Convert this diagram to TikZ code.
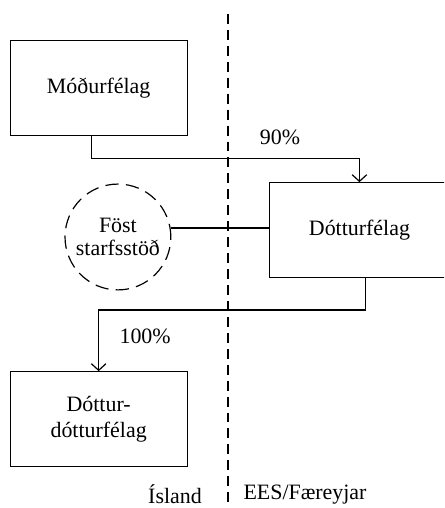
\documentclass[tikz,border=0pt]{standalone}
\usepackage{fontspec}
\setmainfont{Liberation Serif}
\usetikzlibrary{arrows.meta,calc}
\tikzset{
	firma/.style={draw, black, line width=0.9pt, minimum width=4.68cm, minimum height=2.51cm, align=center, font=\fontsize{16.5}{19}\selectfont},
	stod/.style={draw, black, circle, line width=0.9pt, dash pattern=on 10pt off 5.5pt, minimum size=2.8cm, align=center, inner sep=0pt, font=\fontsize{16.5}{17.5}\selectfont},
	tengi/.style={black, line width=0.9pt},
	pil/.style={tengi, -{Straight Barb[length=5pt,width=11pt]}},
	merki/.style={font=\fontsize{16.5}{19}\selectfont}
}
\begin{document}
\begin{tikzpicture}
		\clip (0,0) rectangle (11.75,13.44);
		% landamaeri
		\draw [black, line width=0.9pt, dash pattern=on 7.5pt off 4.5pt] (6.03,13.07)--(6.03,0);
		\node [merki] (island) at (4.63,0.36) {Ísland};
		\node [merki] (ees) at (8.07,0.36) {EES/Færeyjar};
		% felog
		\node [firma] (modur) at (2.61,11.12) {Móðurfélag};
		\node [firma, minimum width=4.78cm] (dottur) at (9.51,7.35) {Dótturfélag};
		\node [firma] (dd) at (2.61,2.35) {Dóttur-\\dótturfélag};
		\node [stod] (fost) at (3.12,7.17) {Föst\\starfsstöð};
		% eignarhald
		\draw [pil] ([xshift=-0.18cm]modur.south) |- ($(dottur.north)+(0,0.63)$) -- (dottur.north);
		\draw [pil] ([xshift=0.15cm]dottur.south) |- ($(dd.north)+(0,1.62)$) -- (dd.north);
		\node [merki] (p90) at (7.41,9.81) {90\%};
		\node [merki] (p100) at (3.84,4.55) {100\%};
		%\draw [tengi] (fost.east)--(dottur.west);
		\draw [tengi] (fost.east |- 0,7.41)--(dottur.west |- 0,7.41);
	  \end{tikzpicture}
\end{document}
